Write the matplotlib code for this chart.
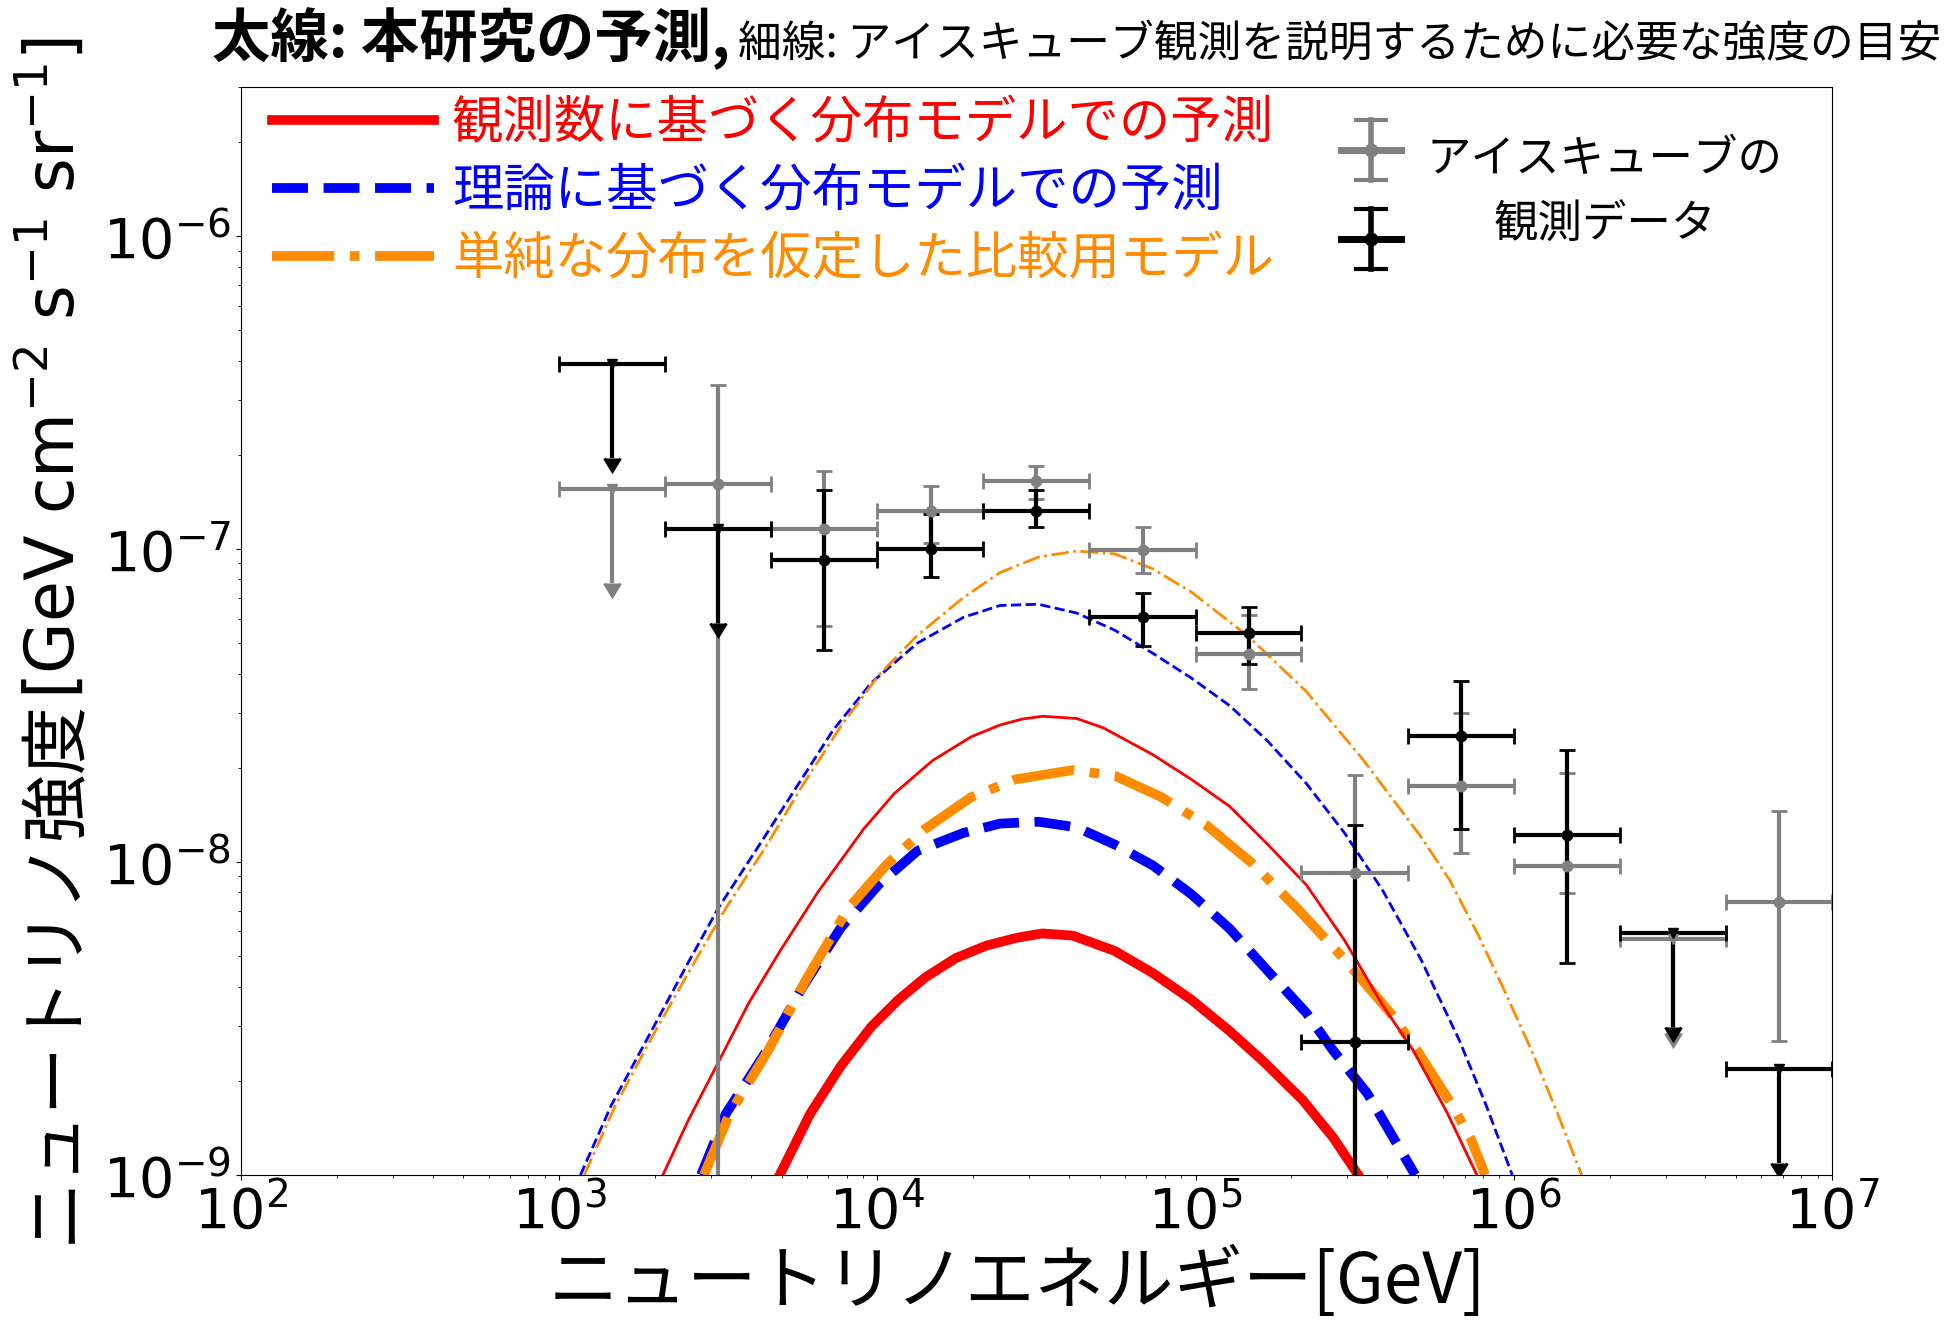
#!/usr/bin/env python3
import numpy as np
import matplotlib
matplotlib.use('Agg')
import matplotlib.pyplot as plt
from matplotlib.legend_handler import HandlerBase
from matplotlib.lines import Line2D

plt.rcParams['font.family'] = ['DejaVu Sans', 'Noto Sans CJK JP']
JP = ['Noto Sans CJK JP', 'DejaVu Sans']

# IceCube energy bins [GeV]
E_center = [1.47e3, 3.16e3, 6.81e3, 1.47e4, 3.16e4, 6.81e4,
            1.47e5, 3.16e5, 6.81e5, 1.47e6, 3.16e6, 6.81e6]
E_low = [1.0e3, 2.15e3, 4.64e3, 1.0e4, 2.15e4, 4.64e4,
         1.0e5, 2.15e5, 4.64e5, 1.0e6, 2.15e6, 4.64e6]
E_high = [2.15e3, 4.64e3, 1.0e4, 2.15e4, 4.64e4, 1.0e5,
          2.15e5, 4.64e5, 1.0e6, 2.15e6, 4.64e6, 1.0e7]

# gray data set (upper limits where gray_ul is True)
gray_flux = [1.56e-7, 1.62e-7, 1.16e-7, 1.32e-7, 1.65e-7, 9.95e-8,
             4.61e-8, 9.2e-9, 1.75e-8, 9.75e-9, 5.69e-9, 7.45e-9]
gray_hi = [1.56e-7, 3.35e-7, 1.78e-7, 1.59e-7, 1.85e-7, 1.18e-7,
           6.14e-8, 1.90e-8, 3.0e-8, 1.93e-8, 5.69e-9, 1.46e-8]
gray_lo = [1.56e-7, 1e-12, 5.68e-8, 1.05e-7, 1.45e-7, 8.4e-8,
           3.57e-8, 1e-12, 1.07e-8, 7.96e-9, 5.69e-9, 2.69e-9]
gray_ul = [True, False, False, False, False, False,
           False, False, False, False, True, False]

# black data set
black_flux = [3.91e-7, 1.16e-7, 9.25e-8, 1.0e-7, 1.32e-7, 6.07e-8,
              5.39e-8, 2.66e-9, 2.53e-8, 1.22e-8, 5.93e-9, 2.18e-9]
black_hi = [3.91e-7, 1.16e-7, 1.55e-7, 1.30e-7, 1.54e-7, 7.24e-8,
            6.52e-8, 1.31e-8, 3.8e-8, 2.28e-8, 5.93e-9, 2.18e-9]
black_lo = [3.91e-7, 1.16e-7, 4.77e-8, 8.14e-8, 1.175e-7, 4.92e-8,
            4.3e-8, 1e-12, 1.28e-8, 4.75e-9, 5.93e-9, 2.18e-9]
black_ul = [True, True, False, False, False, False,
            False, False, False, False, True, True]

# model curves as log10(E/GeV), log10(flux)
thick_red_x = [3.693, 3.789, 3.885, 3.981, 4.066, 4.150, 4.246, 4.342, 4.438, 4.518,
               4.614, 4.746, 4.866, 4.987, 5.107, 5.216, 5.336, 5.432, 5.511]
thick_red_y = [-9.0, -8.804, -8.652, -8.526, -8.44, -8.369, -8.307, -8.267, -8.242, -8.228,
               -8.235, -8.284, -8.355, -8.44, -8.54, -8.64, -8.76, -8.88, -9.0]

thin_red_x = [3.326, 3.404, 3.500, 3.596, 3.693, 3.813, 3.957, 4.053, 4.174, 4.294, 4.385, 4.455,
              4.518, 4.626, 4.710, 4.866, 4.987, 5.107, 5.227, 5.348, 5.468, 5.588, 5.684, 5.790, 5.884]
thin_red_y = [-9.0, -8.829, -8.640, -8.450, -8.286, -8.096, -7.894, -7.781, -7.675, -7.600, -7.562, -7.543,
              -7.534, -7.541, -7.571, -7.657, -7.736, -7.822, -7.944, -8.073, -8.250, -8.458, -8.602, -8.80, -9.0]

thick_blue_x = [3.446, 3.524, 3.645, 3.765, 3.885, 4.005, 4.126, 4.270, 4.385, 4.506, 4.626,
                4.746, 4.866, 4.987, 5.107, 5.227, 5.348, 5.432, 5.540, 5.615, 5.690]
thick_blue_y = [-9.0, -8.804, -8.614, -8.399, -8.210, -8.071, -7.964, -7.907, -7.877, -7.871, -7.889,
                -7.944, -8.011, -8.103, -8.213, -8.348, -8.482, -8.602, -8.74, -8.87, -9.0]

thin_blue_x = [3.067, 3.163, 3.284, 3.404, 3.500, 3.621, 3.741, 3.861, 3.981, 4.126, 4.270, 4.385, 4.506,
               4.626, 4.746, 4.866, 4.987, 5.107, 5.227, 5.348, 5.468, 5.588, 5.708, 5.828, 5.914, 5.995]
thin_blue_y = [-9.0, -8.779, -8.551, -8.324, -8.147, -7.958, -7.768, -7.578, -7.427, -7.300, -7.218, -7.180, -7.176,
               -7.204, -7.259, -7.333, -7.412, -7.50, -7.614, -7.749, -7.907, -8.091, -8.311, -8.568, -8.78, -9.0]

thick_orange_x = [3.455, 3.536, 3.657, 3.777, 3.909, 4.029, 4.150, 4.294, 4.433, 4.614, 4.746,
                  4.890, 5.035, 5.179, 5.323, 5.468, 5.612, 5.696, 5.805, 5.865, 5.910]
thick_orange_y = [-9.0, -8.804, -8.602, -8.374, -8.147, -8.008, -7.894, -7.793, -7.736, -7.706, -7.724,
                  -7.791, -7.883, -8.005, -8.152, -8.311, -8.482, -8.602, -8.775, -8.885, -9.0]

thin_orange_x = [3.079, 3.176, 3.296, 3.416, 3.524, 3.645, 3.765, 3.885, 4.005, 4.126, 4.270, 4.385,
                 4.506, 4.626, 4.746, 4.866, 4.987, 5.167, 5.348, 5.528, 5.708, 5.800, 5.889, 5.970,
                 6.057, 6.140, 6.213]
thin_orange_y = [-9.0, -8.779, -8.551, -8.336, -8.147, -7.958, -7.755, -7.566, -7.402, -7.275, -7.155, -7.075,
                 -7.025, -7.006, -7.015, -7.063, -7.137, -7.28, -7.455, -7.675, -7.919, -8.06, -8.235, -8.41,
                 -8.605, -8.81, -9.0]

labels = ['観測数に基づく分布モデルでの予測',
          '理論に基づく分布モデルでの予測',
          '単純な分布を仮定した比較用モデル']


class StackedErrorbarHandler(HandlerBase):
    # gray glyph above, black glyph below, one shared label
    def create_artists(self, legend, orig_handle, xdescent, ydescent,
                       width, height, fontsize, trans):
        cx = 0.5 * width - xdescent
        cy = 0.5 * height - ydescent
        arm = 0.68 * fontsize
        cap = 0.33 * fontsize
        arts = []
        for color, dy in zip(orig_handle, (1.0 * fontsize, -1.0 * fontsize)):
            y0 = cy + dy
            arts.append(Line2D([cx - arm, cx + arm], [y0, y0], color=color, lw=5))
            arts.append(Line2D([cx, cx], [y0 - arm, y0 + arm], color=color, lw=4))
            arts.append(Line2D([cx - cap, cx + cap], [y0 + arm, y0 + arm], color=color, lw=3))
            arts.append(Line2D([cx - cap, cx + cap], [y0 - arm, y0 - arm], color=color, lw=3))
            arts.append(Line2D([cx], [y0], marker='o', ms=9, color=color))
        for a in arts:
            a.set_transform(trans)
        return arts


fig = plt.figure(figsize=(19.54, 13.34), dpi=100)
ax = fig.add_axes([0.1233, 0.1192, 0.8143, 0.8156])
ax.set_xscale('log')
ax.set_yscale('log')

def lin(v):
    return 10 ** np.array(v)

h_red, = ax.plot(lin(thick_red_x), lin(thick_red_y), '-', color='red', lw=7)
h_blue, = ax.plot(lin(thick_blue_x), lin(thick_blue_y), '--', color='blue', lw=7)
h_orange, = ax.plot(lin(thick_orange_x), lin(thick_orange_y), '-.', color='darkorange', lw=7)
ax.plot(lin(thin_red_x), lin(thin_red_y), '-', color='red', lw=2)
ax.plot(lin(thin_blue_x), lin(thin_blue_y), '--', color='blue', lw=2)
ax.plot(lin(thin_orange_x), lin(thin_orange_y), '-.', color='darkorange', lw=2)


def plot_points(flux, hi, lo, ul, color):
    e = np.array(E_center)
    xe = np.array([e - np.array(E_low), np.array(E_high) - e])
    f = np.array(flux)
    ye = np.array([f - np.array(lo), np.array(hi) - f])
    ul = np.array(ul)
    det = ~ul
    ax.errorbar(e[det], f[det], xerr=xe[:, det], yerr=ye[:, det], fmt='o', color=color,
                ms=7.5, elinewidth=3, capsize=6, capthick=2)
    ax.errorbar(e[ul], f[ul], xerr=xe[:, ul], yerr=0.5 * f[ul], uplims=True, fmt='v',
                color=color, ms=7, elinewidth=3, capsize=6, capthick=2)


plot_points(gray_flux, gray_hi, gray_lo, gray_ul, 'gray')
plot_points(black_flux, black_hi, black_lo, black_ul, 'black')

ax.set_xlim(1e2, 1e7)
ax.set_ylim(1e-9, 3e-6)
ax.tick_params(labelsize=40)

leg1 = ax.legend([h_red, h_blue, h_orange], labels, loc='center left',
                 bbox_to_anchor=(272 / 1954, 1 - 191 / 1334), bbox_transform=fig.transFigure,
                 frameon=False, prop={'family': JP, 'size': 37}, labelcolor='linecolor',
                 handlelength=3.15, handletextpad=0.35, labelspacing=0.28,
                 borderpad=0, borderaxespad=0)
ax.add_artist(leg1)

leg2 = ax.legend([('gray', 'black')], ['アイスキューブの\n観測データ'],
                 handler_map={tuple: StackedErrorbarHandler()}, loc='center left',
                 bbox_to_anchor=(1326.5 / 1954, 1 - 192 / 1334), bbox_transform=fig.transFigure,
                 frameon=False, prop={'family': JP, 'size': 32},
                 handlelength=2.0, handletextpad=0.25, borderpad=0, borderaxespad=0)
for t in leg2.get_texts():
    t.set_multialignment('center')
    t.set_linespacing(1.55)

ax.set_xlabel('ニュートリノエネルギー[GeV]', fontsize=50, family=JP)
ax.xaxis.set_label_coords(0.4877, -0.066)

renderer = fig.canvas.get_renderer()
W, H = fig.bbox.width, fig.bbox.height

# y label in two pieces: Japanese part, then the units in mathtext
yl1 = fig.text(74 / 1954, 1 - 1243 / 1334, 'ニュートリノ強度', fontsize=49, family=JP,
               rotation=90, rotation_mode='anchor', ha='left', va='baseline')
bb = yl1.get_window_extent(renderer)
fig.text(74 / 1954, bb.y1 / H, '[GeV cm$^{-2}$ s$^{-1}$ sr$^{-1}$]', fontsize=48,
         rotation=90, rotation_mode='anchor', ha='left', va='baseline')

# title: bold part and thin part
t1 = fig.text(212 / 1954, 0.957, '太線: 本研究の予測,', fontsize=42, fontweight='bold',
              family=JP, va='baseline')
bb = t1.get_window_extent(renderer)
fig.text((bb.x1 + 8) / W, 0.957, '細線: アイスキューブ観測を説明するために必要な強度の目安',
         fontsize=31.5, family=JP, va='baseline')

fig.savefig('out.png', dpi=100)
